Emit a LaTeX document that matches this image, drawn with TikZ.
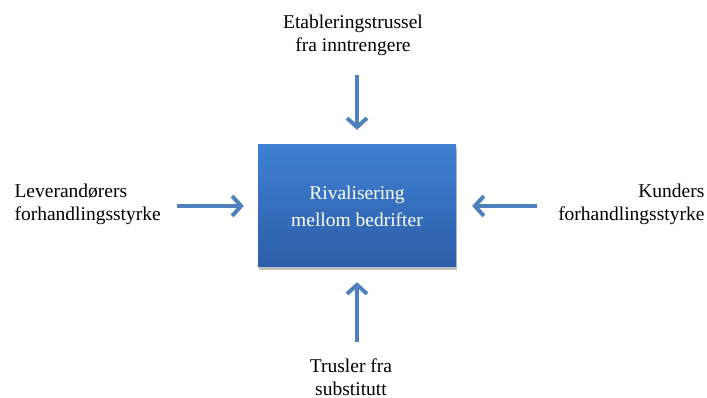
\documentclass[tikz,border=0pt]{standalone}
\usepackage{fontspec}
\setmainfont{Liberation Serif}
\usepackage{tikz}
\usetikzlibrary{arrows.meta,shadows}

\definecolor{forceblue}{RGB}{79,129,189}
\definecolor{boxtop}{RGB}{62,128,210}
\definecolor{boxbottom}{RGB}{44,94,168}

\begin{document}
\begin{tikzpicture}[x=1pt, y=1pt]
    \tikzstyle{force} = [font=\fontsize{19.5}{23}\selectfont]
    \tikzstyle{rivalry} = [rectangle, minimum width=198pt, minimum height=122pt, top color=boxtop, bottom color=boxbottom,
        draw=none, text=white, align=center, font=\fontsize{19.5}{27}\selectfont,
        drop shadow={shadow xshift=1pt, shadow yshift=-3pt, opacity=0.25, fill=black}]
    \tikzstyle{push} = [forceblue, line width=4pt, -{Straight Barb[length=9pt, width=20pt]}]
    \useasboundingbox (0,0) rectangle (707,398);

    \node[rivalry] (rivalry) at (357,192) {Rivalisering\\mellom bedrifter};

    \node[force, align=center] (entrants) at (353,363) {Etableringstrussel\\fra inntrengere};
    \node[force, align=left, anchor=west] (suppliers) at (11,194) {Leverandørers\\forhandlingsstyrke};
    \node[force, align=right, anchor=east] (buyers) at (708,194) {Kunders\\forhandlingsstyrke};
    \node[force, align=center] (substitutes) at (351,21) {Trusler fra\\substitutt};

    \draw[push, shorten <=16pt, shorten >=15pt] (entrants.south -| rivalry.north) -- (rivalry.north);
    \draw[push, shorten <=13pt, shorten >=14pt] (suppliers.east |- rivalry.west) -- (rivalry.west);
    \draw[push, shorten <=18pt, shorten >=16pt] (buyers.west |- rivalry.east) -- (rivalry.east);
    \draw[push, shorten <=13pt, shorten >=15pt] (substitutes.north -| rivalry.south) -- (rivalry.south);
\end{tikzpicture}
\end{document}
